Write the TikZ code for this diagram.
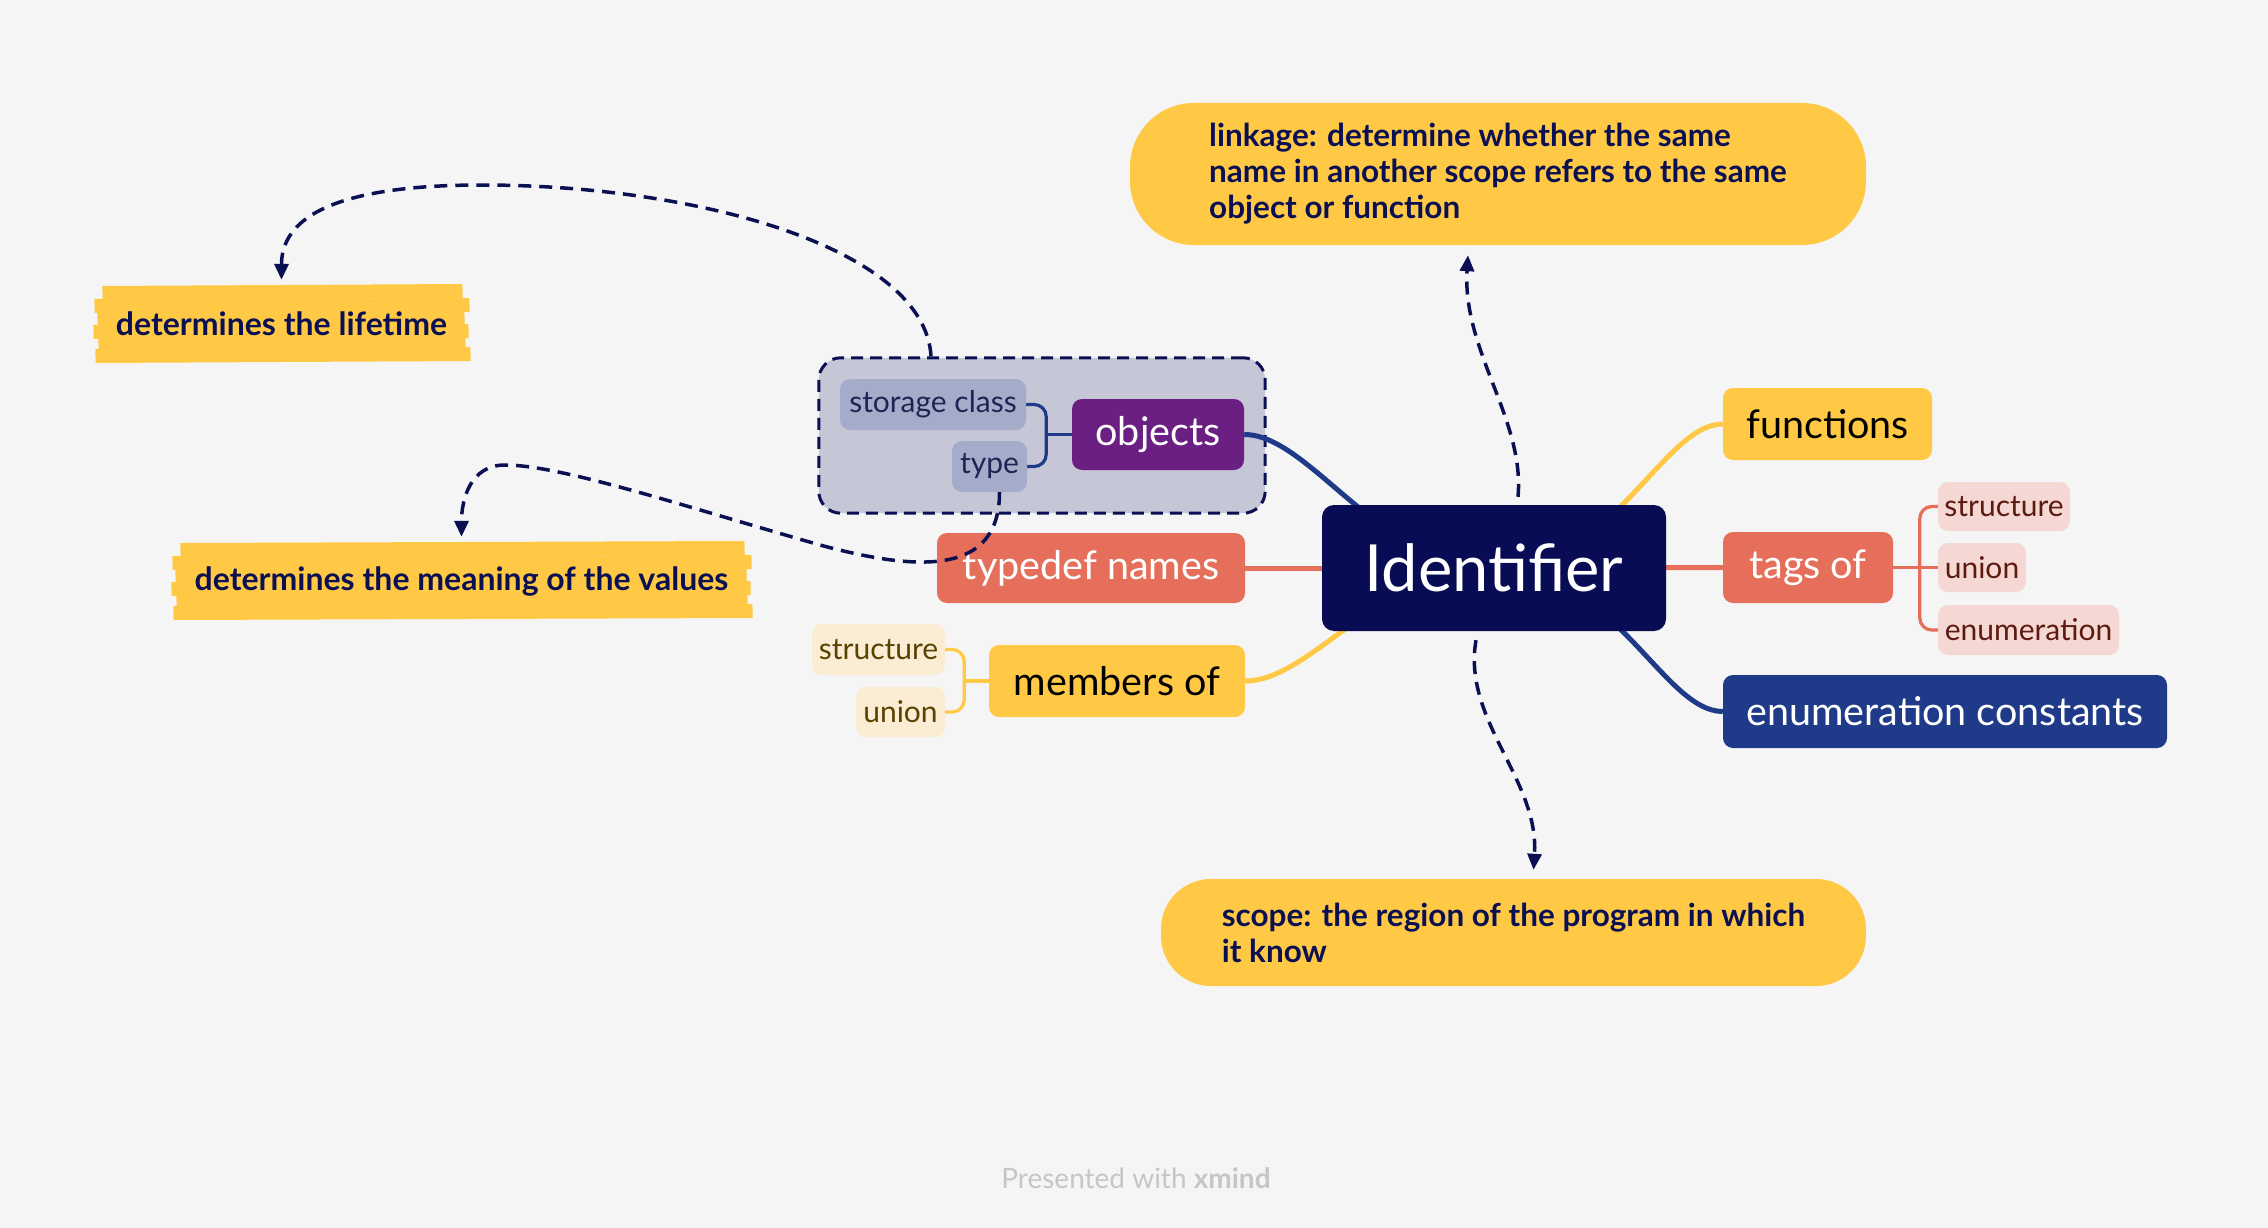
\documentclass[tikz,border=0pt]{standalone}
\usepackage{fontspec}
\setmainfont{Lato}
\usetikzlibrary{arrows.meta,fit}

\definecolor{pagebg}{HTML}{F5F5F5}
\definecolor{coreblue}{HTML}{080C54}
\definecolor{sunny}{HTML}{FFC845}
\definecolor{coral}{HTML}{E56F5A}
\definecolor{royal}{HTML}{1F3A88}
\definecolor{plum}{HTML}{6B1F82}
\definecolor{haze}{HTML}{C5C7D7}
\definecolor{slate}{HTML}{A5ACC9}
\definecolor{slateink}{HTML}{1C2553}
\definecolor{ink}{HTML}{0B1052}
\definecolor{blush}{HTML}{F5D8D3}
\definecolor{maroon}{HTML}{5C1A10}
\definecolor{cream}{HTML}{FBEDD3}
\definecolor{umber}{HTML}{5A4200}
\definecolor{credit}{HTML}{C6C6C6}

\pgfdeclarelayer{background}
\pgfdeclarelayer{conn}
\pgfsetlayers{background,conn,main}

\tikzset{
  box/.style 2 args={minimum width=#1pt, minimum height=#2pt},
  core/.style={fill=coreblue, text=white, rounded corners=12pt, inner sep=0pt,
    font=\fontsize{65}{72}\selectfont},
  topic/.style={rounded corners=10pt, inner sep=0pt, text=white,
    font=\fontsize{39.5}{44}\selectfont},
  chip/.style={rounded corners=10pt, inner sep=0pt,
    font=\fontsize{30}{34}\selectfont},
  callout/.style={fill=sunny, text=ink, align=left, inner sep=0pt,
    font=\bfseries\fontsize{31.5}{36}\selectfont},
  note/.style={text=ink, inner sep=0pt, font=\bfseries\fontsize{32}{36}\selectfont},
  branch/.style={line width=5pt},
  twig/.style={line width=3.2pt, rounded corners=12pt},
  hilite/.style={draw=sunny, line width=14pt},
  relation/.style={draw=ink, line width=3.5pt, dash pattern=on 13pt off 8pt,
    -{Triangle[length=16pt,width=14pt]}}
}

\newcommand\scribble[2]{%
  \begin{scope}[shift={(#1.center)}]
    \foreach \ya/\yb/\xa/\xb in {-31/-33/6/-4, -18/-19/-2/3, -5/-6/1/-2,
                                 8/7/-3/2, 21/20/2/-1, 32/30/-1/4}
      \draw[hilite] (-#2+\xa,\ya) -- (#2+\xb,\yb);
  \end{scope}}

\begin{document}
\begin{tikzpicture}[x=1pt,y=-1pt]
  \begin{pgfonlayer}{background}
    \fill[pagebg] (0,0) rectangle (2268,1228);
  \end{pgfonlayer}
  \useasboundingbox (0,0) rectangle (2268,1228);

  \node[core, box={344}{126}] (ident) at (1494,568) {Identifier};

  \node[topic, fill=sunny, text=black, box={209}{72}] (functions) at (1827.5,424) {functions};
  \node[topic, fill=coral, box={170}{71}] (tags) at (1808,567.5) {tags of};
  \node[topic, fill=royal, box={444}{73}] (enumc) at (1945,711.5) {enumeration constants};
  \node[chip, fill=blush, text=maroon, box={132}{49}] (tstruct) at (2004,506.5) {structure};
  \node[chip, fill=blush, text=maroon, box={88}{49}] (tunion) at (1982,567.5) {union};
  \node[chip, fill=blush, text=maroon, box={181}{50}] (tenum) at (2028.5,630) {enumeration};

  \node[topic, fill=plum, box={172}{71}] (objects) at (1158,434.5) {objects};
  \node[chip, fill=slate, text=slateink, box={186}{51}] (storage) at (933,404.5) {storage class};
  \node[chip, fill=slate, text=slateink, box={75}{51}] (type) at (989.5,466.5) {type};
  \node[topic, fill=coral, box={308}{70}] (typedef) at (1091,568) {typedef names};
  \node[topic, fill=sunny, text=black, box={256}{72}] (members) at (1117,681) {members of};
  \node[chip, fill=cream, text=umber, box={133}{51}] (mstruct) at (878.5,649.5) {structure};
  \node[chip, fill=cream, text=umber, box={89}{50}] (munion) at (900.5,712) {union};

  \node[callout, box={736}{142}, rounded corners=64pt] (linkage) at (1498,174)
    {linkage: determine whether the same\\name in another scope refers to the same\\object or function};
  \node[callout, box={705}{107}, rounded corners=50pt] (scope) at (1513.5,932.5)
    {scope: the region of the program in which\\it know};

  \node[note, box={369}{88}] (lifetime) at (281.5,324) {determines the lifetime};
  \node[note, box={574}{88}] (meaning) at (461.5,581) {determines the meaning of the values};

  \node[text=credit, font=\fontsize{28}{32}\selectfont] (footer) at (1136,1178)
    {Presented with \textbf{xmind}};

  \begin{pgfonlayer}{background}
    \node[fit=(storage)(type)(objects), inner sep=21pt, fill=haze, draw=ink,
      line width=3pt, dash pattern=on 12pt off 7pt, rounded corners=22pt] (boundary) {};
  \end{pgfonlayer}

  \begin{pgfonlayer}{conn}
    \draw[branch, royal] (objects.east) .. controls +(66,0) and +(-114,0) .. (ident.center);
    \draw[branch, coral] (typedef) -- (ident);
    \draw[branch, sunny] (members.east) .. controls +(66,0) and +(-114,0) .. (ident.center);
    \draw[branch, sunny] (ident.center) .. controls +(120,0) and +(-60,0) .. (functions.west);
    \draw[branch, coral] (ident) -- (tags);
    \draw[branch, royal] (ident.center) .. controls +(120,0) and +(-60,0) .. (enumc.west);

    \draw[twig, coral] (tags.east) -- (tunion.west);
    \draw[twig, coral] (tstruct.west) -- ++(-18,0) |- (tenum.west);
    \draw[twig, royal] (objects.west) -- ++(-26,0);
    \draw[twig, royal] (storage.east) -- ++(20,0) |- (type.east);
    \draw[twig, sunny] (members.west) -- ++(-25,0);
    \draw[twig, sunny] (mstruct.east) -- ++(19,0) |- (munion.east);

    \scribble{lifetime}{185}
    \scribble{meaning}{287}
  \end{pgfonlayer}

  \draw[relation] ([xshift=-111pt]boundary.north) .. controls +(-6,-107) and +(218,0) .. (482,185)
    .. controls +(-152,0) and +(0,-60) .. (lifetime.north);
  \draw[relation] ([xshift=10pt]type.south) .. controls +(0,83) and +(100,27) .. (820,545)
    .. controls +(-140,-40) and +(55,0) .. (505,465)
    .. controls +(-35,0) and +(0,-37) .. (meaning.north);
  \draw[relation] ([xshift=24pt,yshift=8pt]ident.north) .. controls +(7,-77) and +(-6,95)
    .. ([xshift=-30pt,yshift=-10pt]linkage.south);
  \draw[relation] ([xshift=-18pt,yshift=-9pt]ident.south) .. controls +(-14,80) and +(6,-90)
    .. ([xshift=20pt,yshift=9pt]scope.north);
\end{tikzpicture}
\end{document}
